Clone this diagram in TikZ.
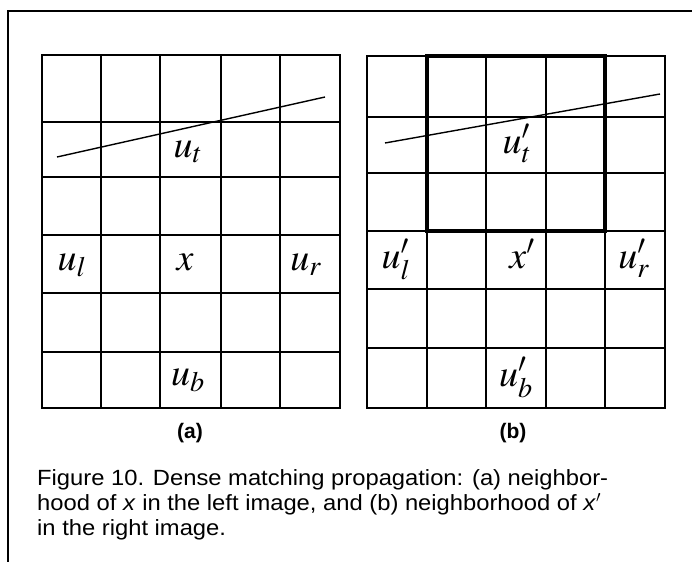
\documentclass[tikz,border=0pt]{standalone}
\usepackage{mathptmx}
\usepackage{fontspec}
\setmainfont{Liberation Sans}
\newfontfamily\capfont[FakeStretch=1.08]{Liberation Sans}

\tikzset{
  cell/.style={line width=1.6pt,line cap=rect},
  window/.style={line width=3.6pt,line join=miter},
  lbl/.style={anchor=base,inner sep=0pt,font=\fontsize{38}{44}\selectfont},
  sub/.style={anchor=base,inner sep=0pt,font=\bfseries\fontsize{21}{24}\selectfont},
  capline/.style={anchor=base west,inner sep=0pt,align=left,
    font=\capfont\fontsize{22}{25}\selectfont}
}

\begin{document}
\begin{tikzpicture}[x=1pt,y=-1pt]
  \useasboundingbox (0,0) rectangle (692,562);
  \draw[line width=1.1pt] (692,11) -- (8,11) -- (8,562);

  % (a) left image
  \foreach \x in {42,101,160,221,280,340}
    \draw[cell] (\x,55) -- (\x,408);
  \foreach \y in {55,122,177,235,293,352,408}
    \draw[cell] (42,\y) -- (340,\y);
  \draw[line width=1.4pt] (57,157) -- (325,97);
  \node[lbl] (ut) at (188,157) {$u_t$};
  \node[lbl] (ul) at (72,270) {$u_l$};
  \node[lbl] (x)  at (185,270) {$x$};
  \node[lbl] (ur) at (306,270) {$u_r$};
  \node[lbl] (ub) at (188,385) {$u_b$};
  \node[sub] (suba) at (190,438) {(a)};

  % (b) right image
  \foreach \x in {367,427,486,546,605,665}
    \draw[cell] (\x,56) -- (\x,408);
  \foreach \y in {56,117,173,231,289,348,408}
    \draw[cell] (367,\y) -- (665,\y);
  \draw[window] (427,56) rectangle (605,231);
  \draw[line width=1.4pt] (385,143) -- (660,94);
  \node[lbl] (utp) at (517,153) {$u'_t$};
  \node[lbl] (ulp) at (396,268) {$u'_l$};
  \node[lbl] (xp)  at (522,268) {$x'$};
  \node[lbl] (urp) at (634,268) {$u'_r$};
  \node[lbl] (ubp) at (516,386) {$u'_b$};
  \node[sub] (subb) at (513,438) {(b)};

  % caption (base = last line)
  \node[capline] (cap) at (37,535) {Figure 10. Dense matching propagation: (a) neighbor-\\
    hood of \textit{x} in the left image, and (b) neighborhood of \textit{x}$'$\\
    in the right image.};
\end{tikzpicture}
\end{document}
